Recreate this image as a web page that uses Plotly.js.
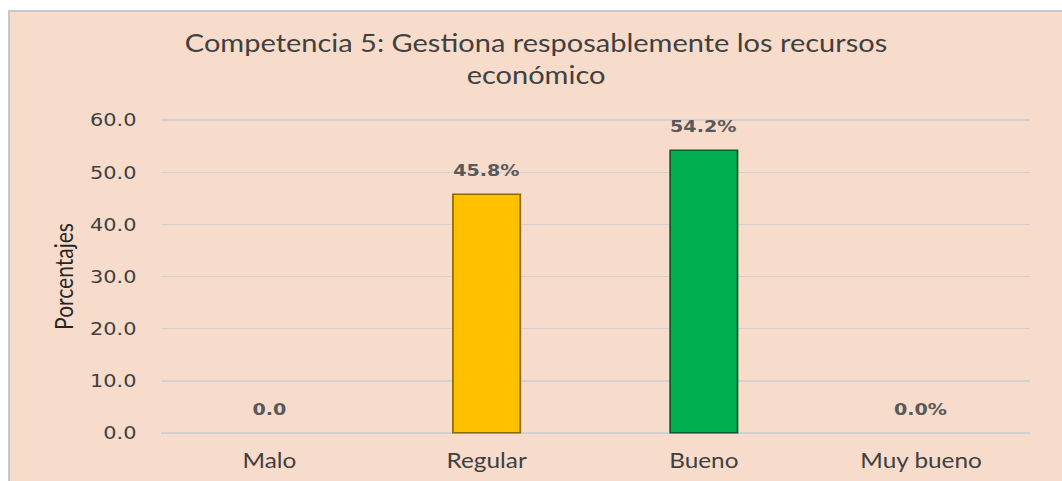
<!DOCTYPE html>
<html><head><meta charset="utf-8">
<script src="https://cdn.plot.ly/plotly-3.0.1.min.js"></script>
<style>
html,body{margin:0;padding:0;background:#fff;width:1062px;height:481px;overflow:hidden;}
#wrap{position:absolute;left:8px;top:10px;width:1054px;height:471px;border-left:2px solid #c8c8c8;border-top:2px solid #c8c8c8;box-sizing:border-box;overflow:hidden;background:#F8DCCB;}
#chart{width:907px;height:469px;transform:scaleX(1.16);transform-origin:0 0;}
</style></head><body>
<div id="wrap"><div id="chart"></div></div>
<script>
const categories = ["Malo", "Regular", "Bueno", "Muy bueno"];
const values = [0.0, 45.8, 54.2, 0.0];
const valueLabels = ["0.0", "45.8%", "54.2%", "0.0%"];
const barColors = ["#FFC000", "#FFC000", "#00B050", "#00B050"];
const barEdges = ["#8a6a00", "#8a6a00", "#0b5a2c", "#0b5a2c"];
const yTicks = [0, 10, 20, 30, 40, 50, 60];
const yTickLabels = ["0.0", "10.0", "20.0", "30.0", "40.0", "50.0", "60.0"];

const human = 'Lato, "Open Sans", sans-serif';
const trace = {
  type: 'bar', x: categories, y: values,
  marker: {color: barColors, line: {color: barEdges, width: values.map(v => v > 0 ? 1.5 : 0)}},
  hoverinfo: 'none', showlegend: false
};
const annotations = categories.map((c, i) => ({
  x: c, y: values[i], xref: 'x', yref: 'y', text: valueLabels[i],
  showarrow: false, yanchor: 'bottom', yshift: 12,
  font: {family: 'DejaVu Sans', size: 16.5, color: '#595959', weight: 'bold'}
}));
const layout = {
  width: 907, height: 469,
  margin: {l: 130, r: 28, t: 105, b: 45},
  paper_bgcolor: '#F8DCCB', plot_bgcolor: '#F8DCCB',
  bargap: 0.69,
  title: {text: 'Competencia 5: Gestiona resposablemente los recursos<br>económico',
          font: {family: human, size: 25, color: '#404040'}, x: 0.5, xanchor: 'center', y: 0.915, yanchor: 'top'},
  xaxis: {tickfont: {family: human, size: 21, color: '#404040'}, showgrid: false, zeroline: false,
          showline: false, ticks: '', ticklabelstandoff: 10, fixedrange: true},
  yaxis: {range: [-0.6, 60.6], tickvals: yTicks, ticktext: yTickLabels,
          tickfont: {family: 'DejaVu Sans', size: 18, color: '#404040'},
          gridcolor: '#D3D0D0', gridwidth: 1.5, zeroline: false, showline: false,
          ticklabelstandoff: 20,
          title: {text: 'Porcentajes', font: {family: human, size: 21, color: '#262626'}, standoff: 8}},
  annotations: annotations
};
Plotly.newPlot('chart', [trace], layout, {displayModeBar: false, staticPlot: true});
</script></body></html>
